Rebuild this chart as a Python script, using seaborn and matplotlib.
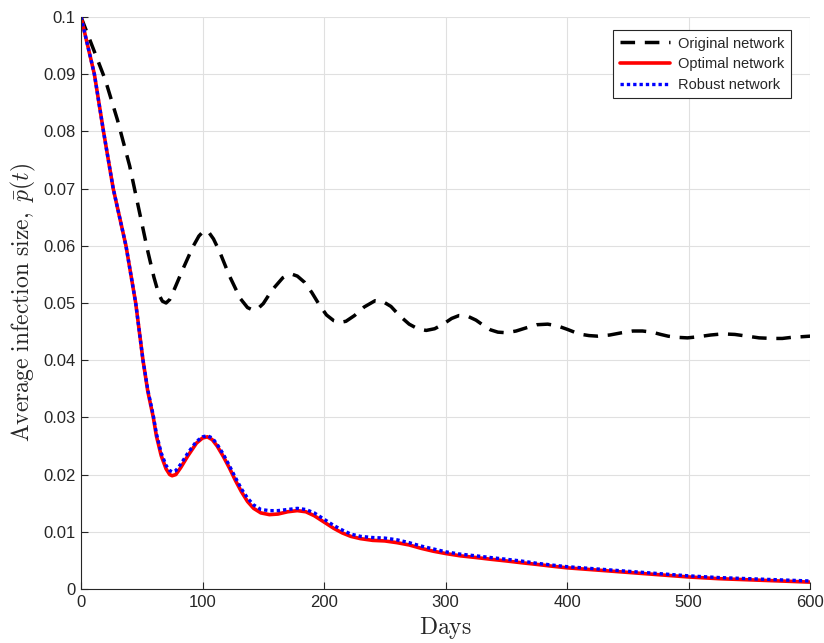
import matplotlib
matplotlib.use("Agg")
import matplotlib.pyplot as plt
import seaborn as sns
import numpy as np
import pandas as pd

# ---- data ----
orig_t = [0, 10, 20, 30, 40, 50, 55, 60, 64, 67, 70, 73, 77, 84, 92, 97, 101, 105, 109,
          114, 122, 131, 137, 141, 145, 150, 157, 166, 170, 174, 178, 184, 190, 196, 202,
          208, 213, 218, 225, 233, 242, 248, 255, 262, 270, 277, 284, 291, 298, 305, 311,
          318, 325, 331, 337, 343, 350, 358, 367, 375, 384, 392, 400, 406, 412, 418, 425,
          435, 445, 454, 462, 470, 477, 483, 490, 499, 508, 518, 528, 538, 548, 558, 569,
          577, 585, 593, 600]
orig_p = [0.1, 0.0945, 0.089, 0.082, 0.074, 0.064, 0.0590, 0.0545, 0.0515, 0.0503, 0.0500,
          0.0506, 0.0525, 0.0560, 0.0598, 0.0617, 0.0626, 0.0624, 0.0612, 0.0590, 0.0548,
          0.0508, 0.0492, 0.0488, 0.0489, 0.0499, 0.0522, 0.0544, 0.0549, 0.0550, 0.0547,
          0.0536, 0.0518, 0.0497, 0.0479, 0.0469, 0.0466, 0.0468, 0.0478, 0.0493, 0.0504,
          0.0503, 0.0494, 0.0478, 0.0463, 0.0455, 0.0452, 0.0455, 0.0463, 0.0473, 0.0478,
          0.0477, 0.0470, 0.0461, 0.0453, 0.0449, 0.0448, 0.0451, 0.0457, 0.0462, 0.0463,
          0.0460, 0.0454, 0.0449, 0.0445, 0.0443, 0.0442, 0.0444, 0.0448, 0.0451, 0.0451,
          0.0449, 0.0445, 0.0442, 0.0440, 0.0439, 0.0441, 0.0444, 0.0446, 0.0445, 0.0442,
          0.0439, 0.0438, 0.0438, 0.0440, 0.0441, 0.0442]

opt_t = [0, 11, 18.5, 26.5, 37, 45, 51, 55, 59.5, 62, 66, 70, 73, 75, 78, 82, 88, 95, 100,
         104, 108, 112, 117, 122, 127, 132, 137, 142, 148, 155, 162, 170, 178, 185, 192,
         200, 208, 215, 222, 230, 240, 250, 260, 270, 280, 290, 300, 312, 325, 337, 350,
         362, 375, 387, 400, 425, 450, 475, 500, 525, 550, 575, 600]
opt_p = [0.1, 0.09, 0.08, 0.07, 0.06, 0.05, 0.04, 0.0345, 0.0300, 0.0268, 0.0233, 0.0210,
         0.0200, 0.0198, 0.0200, 0.0212, 0.0233, 0.0255, 0.0264, 0.0266, 0.0261, 0.0250,
         0.0232, 0.0212, 0.0190, 0.0170, 0.0153, 0.0141, 0.0133, 0.0130, 0.0131, 0.0135,
         0.0137, 0.0135, 0.0128, 0.0117, 0.0106, 0.0098, 0.0092, 0.0088, 0.0085, 0.0084,
         0.0081, 0.0077, 0.0071, 0.0066, 0.0062, 0.0058, 0.0055, 0.0052, 0.0049, 0.0046,
         0.0043, 0.0040, 0.0037, 0.0033, 0.0029, 0.0025, 0.0021, 0.0018, 0.0016, 0.0014,
         0.0012]

rob_t = opt_t
rob_p = [0.1, 0.09, 0.08, 0.07, 0.06, 0.05, 0.04, 0.0348, 0.0303, 0.0272, 0.0238, 0.0216,
         0.0207, 0.0205, 0.0207, 0.0218, 0.0238, 0.0258, 0.0266, 0.0268, 0.0264, 0.0253,
         0.0236, 0.0216, 0.0195, 0.0175, 0.0159, 0.0147, 0.0139, 0.0137, 0.0137, 0.0139,
         0.0141, 0.0139, 0.0133, 0.0122, 0.0111, 0.0103, 0.0096, 0.0092, 0.0090, 0.0089,
         0.0086, 0.0081, 0.0075, 0.0070, 0.0065, 0.0061, 0.0058, 0.0055, 0.0052, 0.0049,
         0.0045, 0.0042, 0.0039, 0.0035, 0.0031, 0.0027, 0.0023, 0.0020, 0.0018, 0.0016,
         0.0014]

x_ticks = [0, 100, 200, 300, 400, 500, 600]
y_ticks = [0, 0.01, 0.02, 0.03, 0.04, 0.05, 0.06, 0.07, 0.08, 0.09, 0.1]
y_tick_labels = ["0", "0.01", "0.02", "0.03", "0.04", "0.05", "0.06", "0.07", "0.08", "0.09", "0.1"]
labels = ["Original network", "Optimal network", "Robust network"]

sns.set_theme(style="whitegrid")
plt.rcParams['font.family'] = ['Liberation Sans', 'DejaVu Sans']
plt.rcParams['mathtext.fontset'] = 'cm'

fig = plt.figure(figsize=(8.24, 6.43), dpi=100)
ax = fig.add_axes([0.0983, 0.084, 0.885, 0.8896])
ax.set_facecolor("white")

sns.lineplot(x=orig_t, y=orig_p, ax=ax, color="black", linewidth=2.5,
             linestyle=(0, (4.2, 2.8)), label=labels[0])
sns.lineplot(x=opt_t, y=opt_p, ax=ax, color="#ff0000", linewidth=2.6,
             linestyle="-", label=labels[1])
sns.lineplot(x=rob_t, y=rob_p, ax=ax, color="#0000ff", linewidth=2.4,
             linestyle=(0, (1, 0.9)), label=labels[2])

ax.set_xlim(0, 600)
ax.set_ylim(0, 0.1)
ax.set_xticks(x_ticks)
ax.set_yticks(y_ticks)
ax.set_yticklabels(y_tick_labels)
ax.tick_params(axis='both', direction='in', length=5, width=0.8, colors='#262626',
               labelsize=12, pad=4, left=True, bottom=True)
ax.grid(True, color='#e0e0e0', linewidth=0.8)
for s in ['top', 'right']:
    ax.spines[s].set_visible(False)
for s in ['left', 'bottom']:
    ax.spines[s].set_color('#262626')
    ax.spines[s].set_linewidth(0.8)

ax.set_xlabel(r"$\mathrm{Days}$", fontsize=17, labelpad=4, color='#262626')
ax.set_ylabel(r"$\mathrm{Average\ infection\ size,}\ \bar{p}(t)$", fontsize=17,
              labelpad=4, color='#262626')

leg = ax.legend(loc='upper right', bbox_to_anchor=(0.984, 0.99), fontsize=10.5,
                frameon=True, fancybox=False, edgecolor='#262626', framealpha=1,
                handlelength=3.4, borderpad=0.45, labelspacing=0.45, handletextpad=0.6)
leg.get_frame().set_linewidth(0.8)

fig.savefig("out.png", dpi=100, facecolor="white")
